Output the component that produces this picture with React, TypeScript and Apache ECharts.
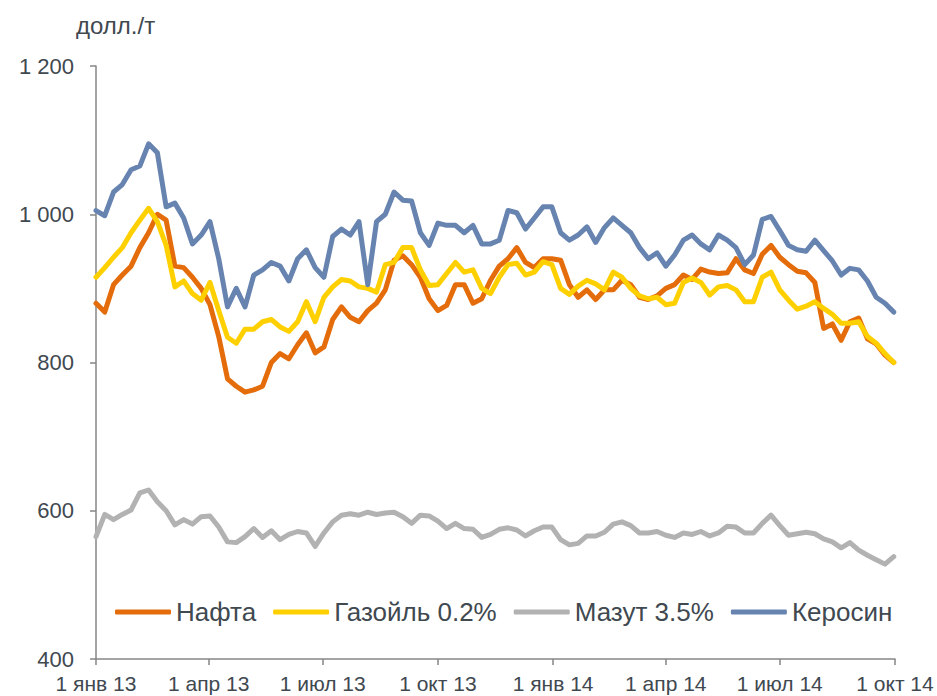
import React, { useEffect, useRef } from "react";
import * as echarts from "echarts";

// Weekly observations starting 1 Jan 2013 (one value every 7 days)
const naphtha = [
  880, 868, 905, 918, 930, 955, 975, 1000, 992, 930,
  928, 915, 900, 878, 835, 778, 768, 760, 763, 768,
  800, 812, 805, 824, 840, 813, 821, 858, 875, 861,
  855, 870, 880, 898, 938, 944, 932, 915, 886, 870,
  877, 905, 905, 880, 886, 911, 930, 940, 955, 935,
  928, 940, 940, 938, 905, 888, 898, 885, 898, 898,
  911, 905, 888, 885, 890, 900, 905, 918, 912, 926,
  922, 920, 921, 940, 925, 920, 946, 958, 942, 932,
  923, 921, 908, 846, 852, 830, 855, 860, 832, 825,
  810, 800,
];
const gasoil = [
  915, 928, 942, 955, 975, 992, 1008, 990, 958, 902,
  910, 893, 884, 908, 870, 834, 826, 845, 845, 855,
  858, 848, 842, 855, 882, 855, 888, 902, 912, 910,
  902, 900, 895, 932, 935, 955, 955, 925, 904, 905,
  920, 935, 922, 925, 900, 893, 915, 932, 934, 918,
  922, 936, 932, 900, 892, 903, 911, 906, 898, 922,
  915, 900, 890, 886, 888, 878, 880, 908, 914, 908,
  891, 902, 904, 898, 882, 882, 915, 922, 898, 884,
  872, 876, 882, 873, 865, 853, 853, 855, 835, 826,
  812, 800,
];
const fuelOil = [
  565, 595, 588, 595, 601, 624, 628, 612, 600, 581,
  588, 582, 592, 593, 578, 558, 557, 565, 576, 564,
  573, 561, 568, 572, 570, 552, 570, 585, 594, 596,
  594, 598, 595, 597, 598, 592, 583, 594, 593, 586,
  576, 583, 576, 575, 564, 568, 575, 577, 574, 566,
  573, 578, 578, 561, 554, 556, 566, 566, 571, 582,
  585, 580, 570, 570, 572, 567, 564, 570, 568, 572,
  566, 570, 579, 578, 570, 570, 583, 594, 580, 567,
  569, 571, 569, 562, 558, 550, 557, 547, 540, 534,
  528, 538,
];
const kerosene = [
  1005, 998, 1030, 1040, 1060, 1065, 1095, 1083, 1010, 1015,
  995, 960, 972, 990, 940, 875, 900, 875, 918, 925,
  935, 930, 910, 940, 952, 928, 915, 970, 980, 972,
  990, 905, 990, 1000, 1030, 1019, 1018, 975, 958, 988,
  985, 985, 975, 985, 960, 960, 965, 1005, 1002, 980,
  995, 1010, 1010, 975, 965, 972, 983, 962, 982, 995,
  985, 975, 955, 940, 948, 930, 945, 965, 972, 960,
  952, 972, 965, 955, 932, 945, 993, 997, 978, 958,
  952, 950, 965, 951, 937, 918, 927, 925, 910, 888,
  880, 868,
];

const seriesNames = ["Нафта", "Газойль 0.2%", "Мазут 3.5%", "Керосин"];
const seriesColors = ["#E46C0A", "#FFD000", "#B2B2B2", "#6783B0"];
const monthNames = ["янв", "фев", "мар", "апр", "май", "июн", "июл", "авг", "сен", "окт", "ноя", "дек"];
const yTicks = [400, 600, 800, 1000, 1200];
const unitLabel = "долл./т";

const START = Date.UTC(2013, 0, 1);
const DAY_MS = 86400000;
const DAY_COUNT = 639; // 1 Jan 2013 .. 1 Oct 2014
const STEP_DAYS = 7;

const days: string[] = Array.from({ length: DAY_COUNT }, (_, d) =>
  new Date(START + d * DAY_MS).toISOString().slice(0, 10)
);

function isQuarterStart(idx: number) {
  const dt = new Date(START + idx * DAY_MS);
  return dt.getUTCDate() === 1 && dt.getUTCMonth() % 3 === 0;
}

function toDaily(weekly: number[]) {
  const arr: (number | null)[] = new Array(DAY_COUNT).fill(null);
  weekly.forEach((v, i) => {
    const d = i * STEP_DAYS;
    if (d < DAY_COUNT) arr[d] = v;
  });
  return arr;
}

function fmtThousands(v: number) {
  const s = String(v);
  return s.length > 3 ? s.slice(0, s.length - 3) + " " + s.slice(-3) : s;
}

const FONT = "'Liberation Sans', Arial, sans-serif";
const TEXT_COLOR = "#404850";
const AXIS_COLOR = "#868686";

export default function App() {
  const ref = useRef<HTMLDivElement>(null);
  useEffect(() => {
    if (!ref.current) return;
    const chart = echarts.init(ref.current, undefined, { renderer: "svg" });
    const data = [naphtha, gasoil, fuelOil, kerosene];
    chart.setOption({
      animation: false,
      backgroundColor: "#ffffff",
      textStyle: { fontFamily: FONT },
      grid: { left: 96, right: 42, top: 66, bottom: 37, containLabel: false },
      legend: {
        left: 110,
        top: 594,
        icon: "roundRect",
        itemWidth: 56,
        itemHeight: 5,
        itemGap: 17,
        data: seriesNames,
        textStyle: { fontSize: 26, color: TEXT_COLOR, fontFamily: FONT },
      },
      graphic: [
        {
          type: "text",
          left: 76,
          top: 13,
          style: { text: unitLabel, fontSize: 24, fill: TEXT_COLOR, fontFamily: FONT },
        },
      ],
      xAxis: {
        type: "category",
        data: days,
        boundaryGap: false,
        axisLine: { lineStyle: { color: AXIS_COLOR, width: 1.5 } },
        axisTick: {
          interval: (idx: number) => isQuarterStart(idx),
          length: 6,
          lineStyle: { color: AXIS_COLOR, width: 1.5 },
        },
        axisLabel: {
          interval: (idx: number) => isQuarterStart(idx),
          formatter: (val: string) => {
            const dt = new Date(val + "T00:00:00Z");
            return `${dt.getUTCDate()} ${monthNames[dt.getUTCMonth()]} ${String(dt.getUTCFullYear()).slice(2)}`;
          },
          fontSize: 21,
          color: TEXT_COLOR,
          margin: 14,
          fontFamily: FONT,
        },
        splitLine: { show: false },
      },
      yAxis: {
        type: "value",
        min: yTicks[0],
        max: yTicks[yTicks.length - 1],
        interval: yTicks[1] - yTicks[0],
        axisLine: { show: true, lineStyle: { color: AXIS_COLOR, width: 1.5 } },
        axisTick: { show: true, length: 6, lineStyle: { color: AXIS_COLOR, width: 1.5 } },
        axisLabel: {
          formatter: (v: number) => fmtThousands(v),
          fontSize: 22,
          color: TEXT_COLOR,
          margin: 22,
          fontFamily: FONT,
        },
        splitLine: { show: false },
      },
      series: seriesNames.map((name, k) => ({
        name,
        type: "line",
        data: toDaily(data[k]),
        connectNulls: true,
        showSymbol: false,
        symbol: "none",
        color: seriesColors[k],
        lineStyle: { width: 5, color: seriesColors[k], cap: "round", join: "round" },
        itemStyle: { color: seriesColors[k] },
        z: 2 + k,
      })),
    });
    return () => chart.dispose();
  }, []);
  return (
    <div
      ref={ref}
      style={{ position: "fixed", left: 0, top: 0, width: 937, height: 696, background: "#fff" }}
    />
  );
}
